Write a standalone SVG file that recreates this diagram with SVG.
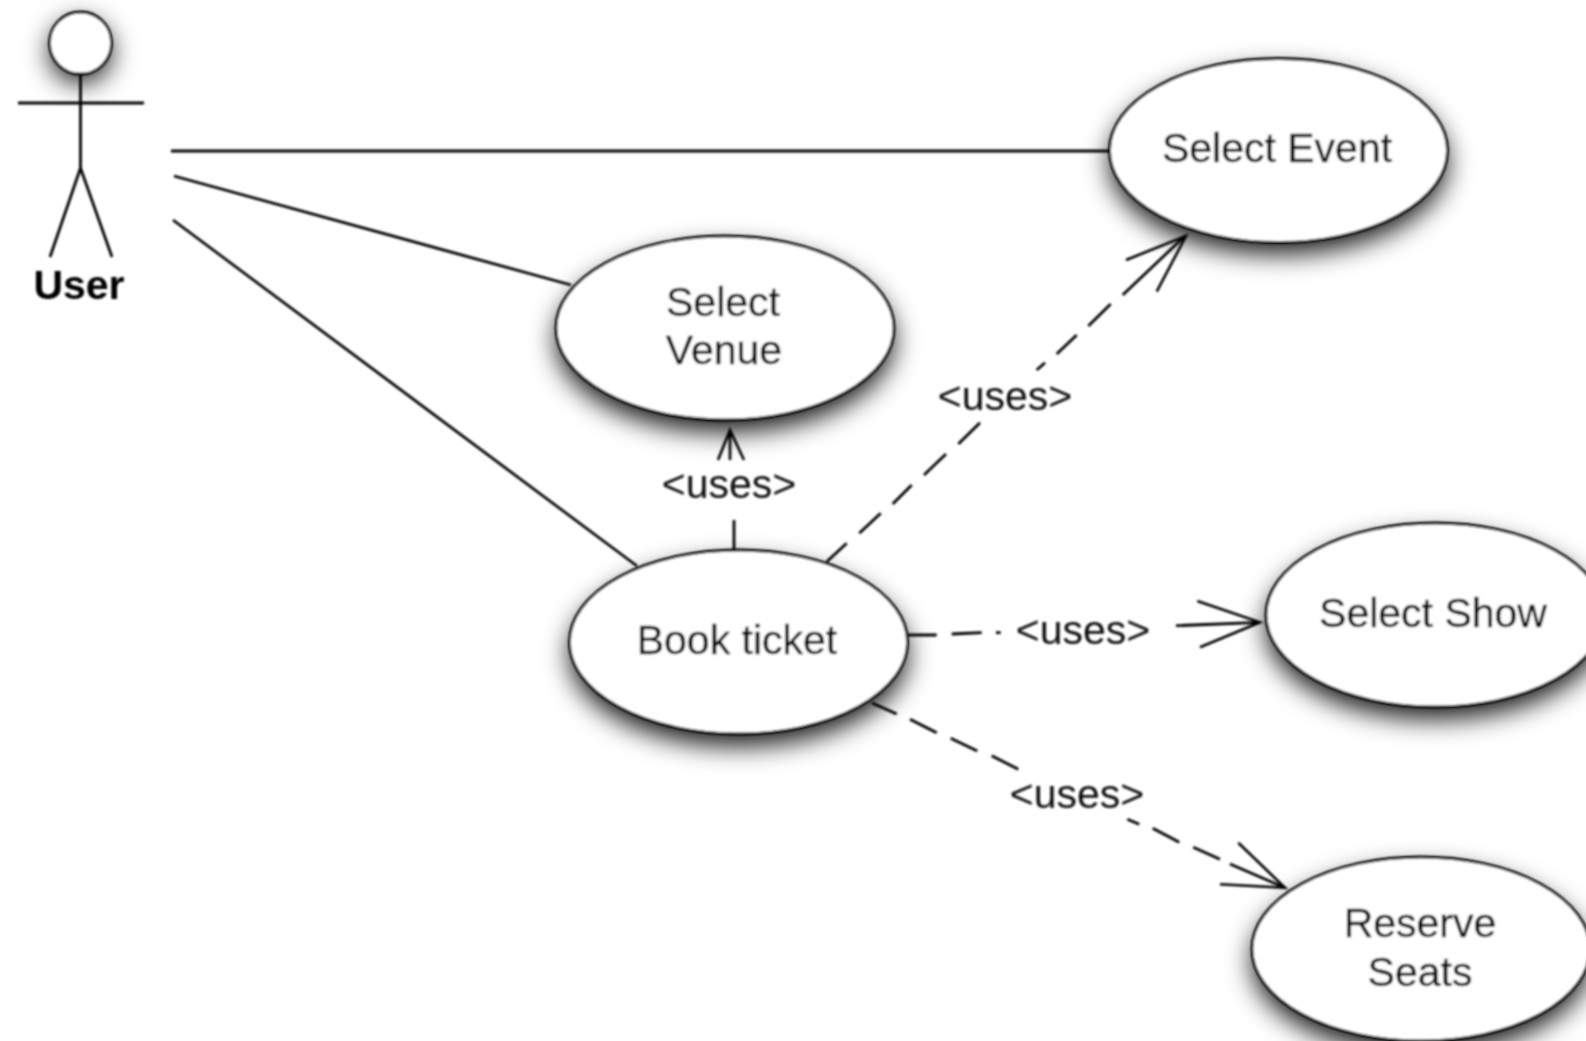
<svg xmlns="http://www.w3.org/2000/svg" width="1586" height="1041" viewBox="0 0 1586 1041">
<style>
.n{fill:#fff;stroke:#000;stroke-width:2.8}
.l{fill:none;stroke:#000;stroke-width:2.8}
.a{fill:none;stroke:#000;stroke-width:2.6}
text{font-family:"Liberation Sans",Arial,sans-serif;font-size:41px;fill:#111;text-anchor:middle}
.t{fill:#000;stroke:#000;stroke-width:.3}
.b{font-weight:bold;font-size:41px;fill:#000}
.s{fill:#000;fill-opacity:.9;stroke:none;filter:url(#sh)}
</style>
<defs>
<filter id="sh" x="-100" y="-100" width="1786" height="1241" filterUnits="userSpaceOnUse"><feGaussianBlur stdDeviation="13"/></filter>
<filter id="soft" x="0" y="0" width="1586" height="1041" filterUnits="userSpaceOnUse"><feGaussianBlur stdDeviation="0.9"/></filter>
</defs>
<rect width="1586" height="1041" fill="#fff"/>
<g filter="url(#soft)">
<g id="connectors">
<path class="l" d="M171 151H1110M174 176L571 285M173 220L637 566"/>
<path class="l" d="M734 549V520"/>
<path class="a" d="M730 460V430M718 460L730 430L744 460"/>
<path class="l" d="M826.7 561.7L846.7 543.3M859.3 533.3L880.7 513.3M892.7 504L911.7 485M924 475L946 454M958.3 444L980 422.7M1036.7 370L1045 362.7M1056.7 354L1076.7 335M1088.3 326L1110.7 304M1122.7 295L1185 236"/>
<path class="a" d="M1126 260L1186 236L1156.7 291.7"/>
<path class="l" d="M908.3 635H936.7M951.7 634L981.7 632.7M996 632.7H1000.7M1176 625.7L1260 622.3"/>
<path class="a" d="M1197.3 601L1260 622.3L1200 647.3"/>
<path class="l" d="M872 703L896.7 714M910 719.3L936.7 732.7M950.7 738.3L977.3 751M991.7 755.7L1018.3 769.3M1127.3 819.3L1139.3 824.3M1152.7 828.3L1179.3 842.3M1193.3 847.3L1220 859.3M1230 864L1285 887.7"/>
<path class="a" d="M1238.3 842.7L1285 887.7L1220 884.3"/>
<text x="729" y="498">&lt;uses&gt;</text>
<text x="1005" y="410">&lt;uses&gt;</text>
<text x="1083" y="644">&lt;uses&gt;</text>
<text x="1077" y="808">&lt;uses&gt;</text>
</g>
<g id="user">
<circle class="s" cx="80.5" cy="52" r="31"/>
<circle class="n" cx="80.5" cy="43" r="31"/>
<path class="l" d="M80.5 74V168M18 103H144M50 257L80.5 168L112 257"/>
<text class="b" x="79" y="299">User</text>
</g>
<g id="select-event">
<ellipse class="s" cx="1278.5" cy="162" rx="169" ry="92"/>
<ellipse class="n" cx="1278.5" cy="150.5" rx="169" ry="92"/>
<text class="t" x="1277" y="162">Select Event</text>
</g>
<g id="select-venue">
<ellipse class="s" cx="725" cy="340" rx="169" ry="92"/>
<ellipse class="n" cx="725" cy="328" rx="169" ry="92"/>
<text class="t" x="723" y="316">Select</text>
<text class="t" x="724" y="364">Venue</text>
</g>
<g id="book-ticket">
<ellipse class="s" cx="738.5" cy="654" rx="169" ry="92"/>
<ellipse class="n" cx="738.5" cy="642" rx="169" ry="92"/>
<text class="t" x="737" y="654">Book ticket</text>
</g>
<g id="select-show">
<ellipse class="s" cx="1435" cy="627" rx="169" ry="92"/>
<ellipse class="n" cx="1435" cy="615" rx="169" ry="92"/>
<text class="t" x="1433" y="627">Select Show</text>
</g>
<g id="reserve-seats">
<ellipse class="s" cx="1421" cy="961" rx="169" ry="92"/>
<ellipse class="n" cx="1421" cy="949" rx="169" ry="92"/>
<text class="t" x="1420" y="937">Reserve</text>
<text class="t" x="1420" y="986">Seats</text>
</g>
</g>
</svg>
